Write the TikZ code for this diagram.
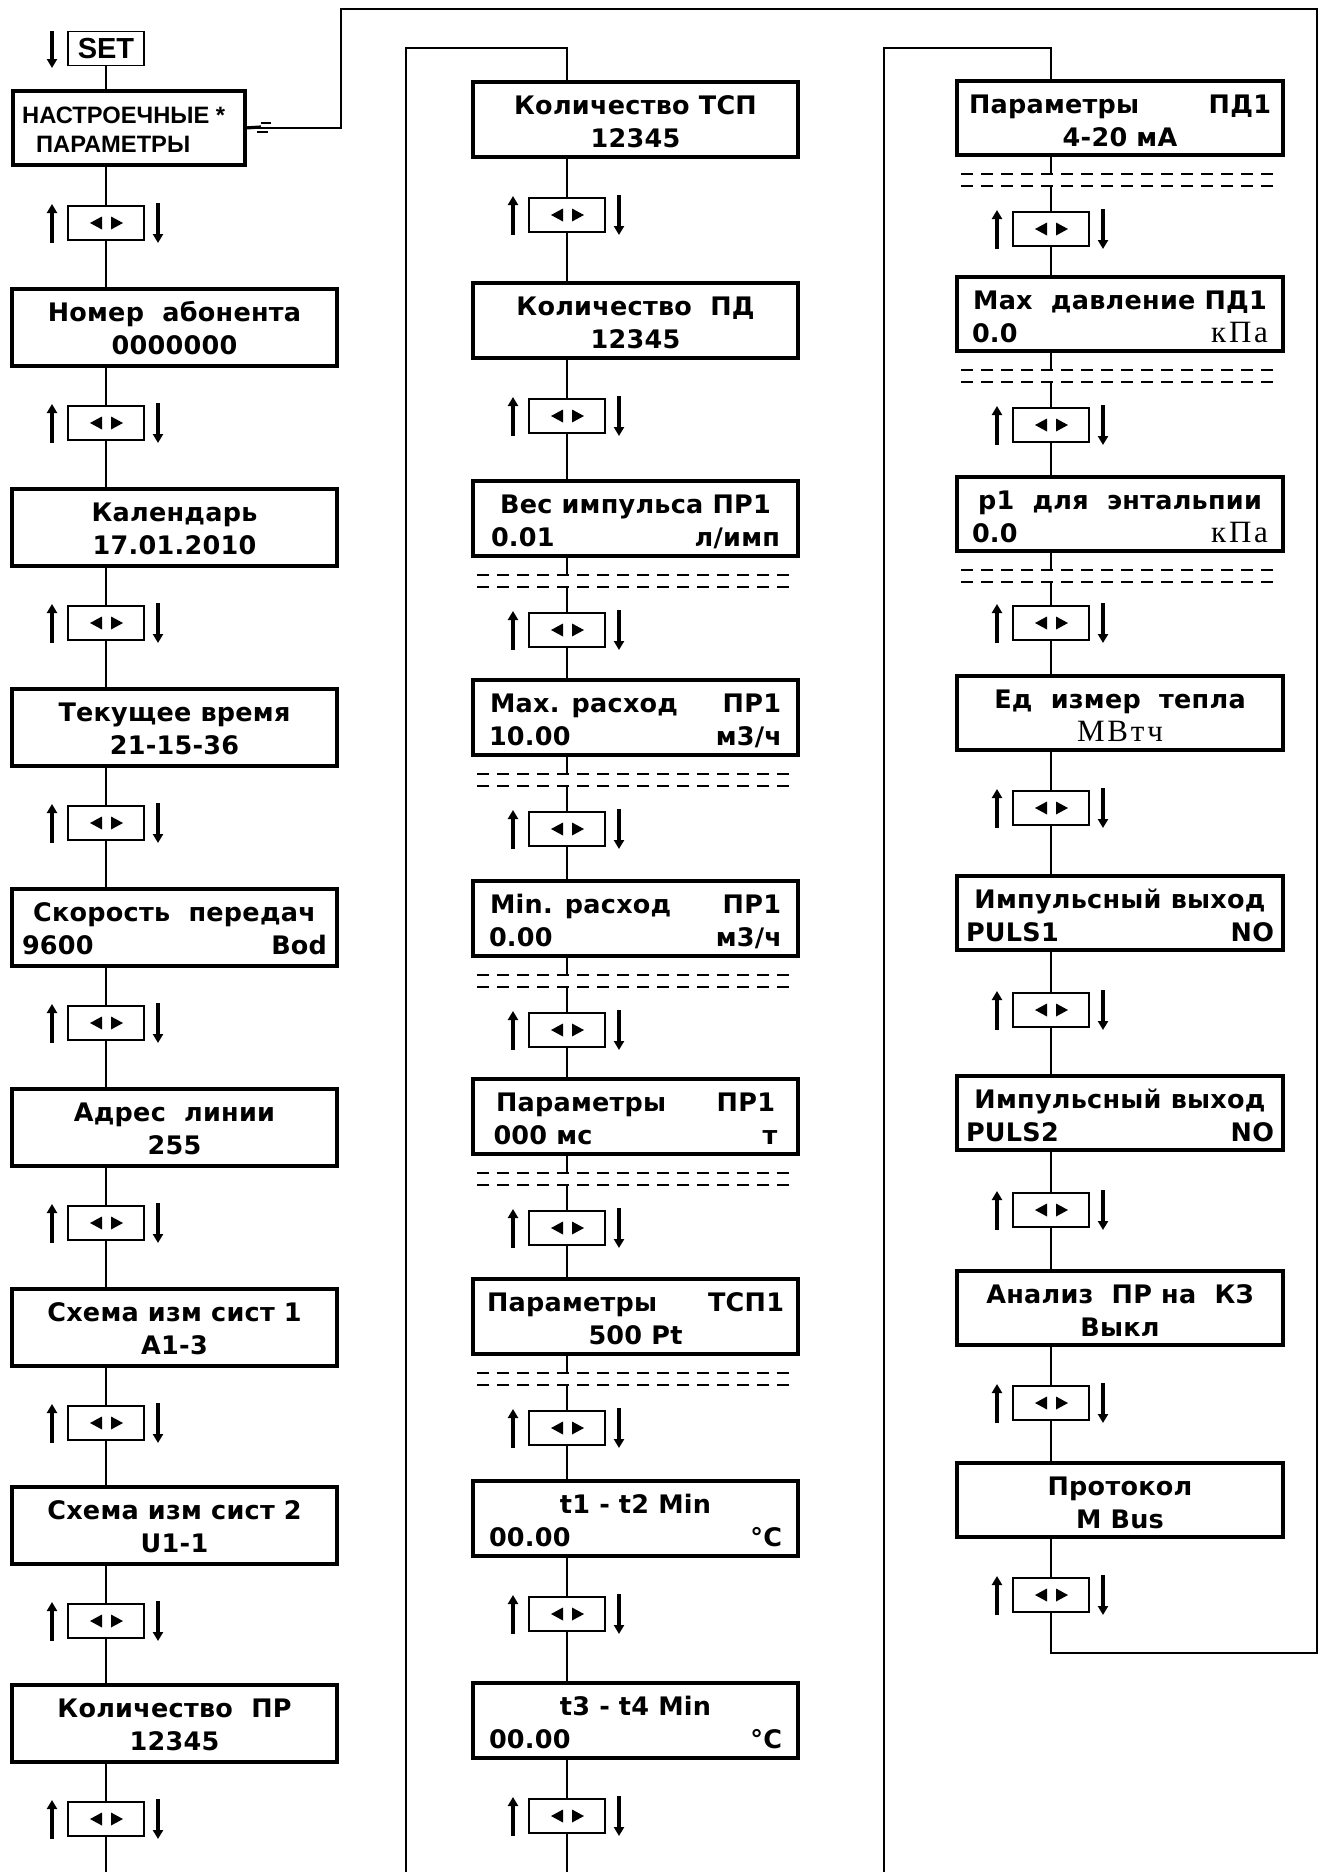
\documentclass[tikz,border=0pt]{standalone}
\usepackage{fontspec}
\usetikzlibrary{arrows.meta,calc}
\newfontfamily\lcdf{DejaVu Sans}[LetterSpace=1]
\newfontfamily\plainf{Liberation Sans}
\newfontfamily\serf{Liberation Serif}[LetterSpace=9]
\newcommand{\sertxt}[1]{{\serf\mdseries\fontsize{31}{32}\selectfont #1}}
\newcommand{\lrtext}[3][289pt]{\makebox[#1]{#2\hfill #3}}
\tikzset{
 scrbox/.style={draw, line width=3.4pt, inner sep=0pt, outer sep=0pt},
 txt/.style={anchor=base, inner sep=0pt, font=\lcdf\bfseries\fontsize{25.5}{30}\selectfont},
 navbox/.style={draw, line width=1.8pt, minimum width=76pt, minimum height=34pt, inner sep=0pt, outer sep=0pt},
 conn/.style={line width=1.8pt},
 dsh/.style={line width=1.8pt, dash pattern=on 12pt off 8pt},
 arr/.style={line width=3.4pt, -{Triangle[width=10pt,length=9pt]}},
}
% #1 width, #2 name, #3 x, #4 y, #5 height, #6 line1, #7 line2
\newcommand{\mkscr}[7][325]{%
  \node[scrbox, minimum width=#1pt, minimum height=#5pt, anchor=north west] (#2) at (#3,#4) {};
  \node[txt] (#2a) at ($(#2.north)+(0,32)$) {#6};
  \node[txt] (#2b) at ($(#2.north)+(0,65)$) {#7};
}
% #1 name, #2 cx, #3 top
\newcommand{\mknav}[3]{%
  \node[navbox, anchor=north] (#1) at (#2,#3) {};
  \fill (#2-16,#3+17) -- (#2-4,#3+10.5) -- (#2-4,#3+23.5) -- cycle;
  \fill (#2+17,#3+17) -- (#2+5,#3+10.5) -- (#2+5,#3+23.5) -- cycle;
  \draw[arr] (#2-54,#3+37) -- (#2-54,#3-2);
  \draw[arr] (#2+52,#3-3) -- (#2+52,#3+37);
}
\newcommand{\linkbn}[2]{\draw[conn] (#1.south -| #2.north) -- (#2.north);}
\newcommand{\linknb}[2]{\draw[conn] (#1.south) -- (#1.south |- #2.north);}
\newcommand{\linkbd}[2]{%
  \draw[conn] (#1.south -| #2.north) -- ($(#1.south -| #2.north)+(0,19)$);
  \draw[dsh] ($(#1.south west)+(4,19)$) -- ($(#1.south east)+(-3,19)$);
  \draw[dsh] ($(#1.south west)+(4,31)$) -- ($(#1.south east)+(-3,31)$);
  \draw[conn] ($(#1.south -| #2.north)+(0,31)$) -- (#2.north);}

\begin{document}
\begin{tikzpicture}[x=1pt,y=-1pt]
\fill[white] (0,0) rectangle (1321,1872);
\useasboundingbox (0,0) rectangle (1321,1872);

% ---------- column 1 ----------
\node[navbox, font=\plainf\bfseries\fontsize{29}{30}\selectfont] (set) at (106,48.5) {SET};
\draw[arr] (52,31) -- (52,68);
\node[scrbox, minimum width=232pt, minimum height=74pt, anchor=north west] (nastr) at (13,91) {};
\node[anchor=base west, inner sep=0pt, font=\plainf\bfseries\fontsize{23.7}{26}\selectfont] (nastra) at (22,123) {НАСТРОЕЧНЫЕ *};
\node[anchor=base west, inner sep=0pt, font=\plainf\bfseries\fontsize{23.7}{26}\selectfont] (nastrb) at (36,152) {ПАРАМЕТРЫ};
\draw[conn] (set.south) -- (set.south |- nastr.north);
\mknav{nn0}{106}{206}
\linkbn{nastr}{nn0}

\mkscr{c1}{12}{289}{77}{Номер~~абонента}{0000000}
\mkscr{c2}{12}{489}{77}{Календарь}{17.01.2010}
\mkscr{c3}{12}{689}{77}{Текущее время}{21-15-36}
\mkscr{c4}{12}{889}{77}{Скорость~~передач}{\lrtext[305pt]{9600}{Bod}}
\mkscr{c5}{12}{1089}{77}{Адрес~~линии}{255}
\mkscr{c6}{12}{1289}{77}{Схема изм сист 1}{A1-3}
\mkscr{c7}{12}{1487}{77}{Схема изм сист 2}{U1-1}
\mkscr{c8}{12}{1685}{77}{Количество~~ПР}{12345}
\mknav{nc1}{106}{406}
\mknav{nc2}{106}{606}
\mknav{nc3}{106}{806}
\mknav{nc4}{106}{1006}
\mknav{nc5}{106}{1206}
\mknav{nc6}{106}{1406}
\mknav{nc7}{106}{1604}
\mknav{nc8}{106}{1802}
\linknb{nn0}{c1}
\linkbn{c1}{nc1} \linknb{nc1}{c2}
\linkbn{c2}{nc2} \linknb{nc2}{c3}
\linkbn{c3}{nc3} \linknb{nc3}{c4}
\linkbn{c4}{nc4} \linknb{nc4}{c5}
\linkbn{c5}{nc5} \linknb{nc5}{c6}
\linkbn{c6}{nc6} \linknb{nc6}{c7}
\linkbn{c7}{nc7} \linknb{nc7}{c8}
\linkbn{c8}{nc8}
\coordinate (end1) at (106,1872);
\draw[conn] (nc8.south) -- (end1);

% ---------- column 2 ----------
\mkscr{d1}{473}{82}{75}{Количество ТСП}{12345}
\mkscr{d2}{473}{283}{75}{Количество~~ПД}{12345}
\mkscr{d3}{473}{481}{75}{Вес импульса ПР1}{\lrtext{0.01}{л/имп}}
\mkscr{d4}{473}{680}{75}{\lrtext[291pt]{Max. расход}{ПР1}}{\lrtext[293pt]{10.00}{м3/ч}}
\mkscr{d5}{473}{881}{75}{\lrtext[291pt]{Min. расход}{ПР1}}{\lrtext[293pt]{0.00}{м3/ч}}
\mkscr{d6}{473}{1079}{75}{\lrtext[279pt]{Параметры}{ПР1}}{\lrtext[284pt]{000 мс}{т}}
\mkscr{d7}{473}{1279}{75}{\lrtext[297pt]{Параметры}{ТСП1}}{500 Pt}
\mkscr{d8}{473}{1481}{75}{t1 - t2 Min}{\lrtext[293pt]{00.00}{°C}}
\mkscr{d9}{473}{1683}{75}{t3 - t4 Min}{\lrtext[293pt]{00.00}{°C}}
\mknav{nd1}{567}{198}
\mknav{nd2}{567}{399}
\mknav{nd3}{567}{613}
\mknav{nd4}{567}{812}
\mknav{nd5}{567}{1013}
\mknav{nd6}{567}{1211}
\mknav{nd7}{567}{1411}
\mknav{nd8}{567}{1597}
\mknav{nd9}{567}{1799}
\coordinate (s2) at (406,1872);
\coordinate (t2) at (406,48);
\draw[conn] (s2) -- (t2) -| (d1.north -| nd1.north);
\linkbn{d1}{nd1} \linknb{nd1}{d2}
\linkbn{d2}{nd2} \linknb{nd2}{d3}
\linkbd{d3}{nd3} \linknb{nd3}{d4}
\linkbd{d4}{nd4} \linknb{nd4}{d5}
\linkbd{d5}{nd5} \linknb{nd5}{d6}
\linkbd{d6}{nd6} \linknb{nd6}{d7}
\linkbd{d7}{nd7} \linknb{nd7}{d8}
\linkbn{d8}{nd8} \linknb{nd8}{d9}
\linkbn{d9}{nd9}
\coordinate (end2) at (567,1872);
\draw[conn] (nd9.south) -- (end2);

% ---------- column 3 ----------
\mkscr[326]{e1}{957}{81}{74}{\lrtext[302pt]{Параметры}{ПД1}}{4-20 мА}
\mkscr[326]{e2}{957}{277}{74}{Max~~давление ПД1}{\lrtext[296pt]{0.0}{\sertxt{кПа}}}
\mkscr[326]{e3}{957}{477}{74}{р1~~для~~энтальпии}{\lrtext[296pt]{0.0}{\sertxt{кПа}}}
\mkscr[326]{e4}{957}{676}{74}{Ед~~измер~~тепла}{\sertxt{МВтч}}
\mkscr[326]{e5}{957}{876}{74}{Импульсный выход}{\lrtext[308pt]{PULS1}{NO}}
\mkscr[326]{e6}{957}{1076}{74}{Импульсный выход}{\lrtext[308pt]{PULS2}{NO}}
\mkscr[326]{e7}{957}{1271}{74}{Анализ~~ПР на~~КЗ}{Выкл}
\mkscr[326]{e8}{957}{1463}{74}{Протокол}{M Bus}
\mknav{ne1}{1051}{212}
\mknav{ne2}{1051}{408}
\mknav{ne3}{1051}{606}
\mknav{ne4}{1051}{791}
\mknav{ne5}{1051}{993}
\mknav{ne6}{1051}{1193}
\mknav{ne7}{1051}{1386}
\mknav{ne8}{1051}{1578}
\coordinate (s3) at (884,1872);
\coordinate (t3) at (884,48);
\draw[conn] (s3) -- (t3) -| (e1.north -| ne1.north);
\linkbd{e1}{ne1} \linknb{ne1}{e2}
\linkbd{e2}{ne2} \linknb{ne2}{e3}
\linkbd{e3}{ne3} \linknb{ne3}{e4}
\linkbn{e4}{ne4} \linknb{ne4}{e5}
\linkbn{e5}{ne5} \linknb{ne5}{e6}
\linkbn{e6}{ne6} \linknb{ne6}{e7}
\linkbn{e7}{ne7} \linknb{ne7}{e8}
\linkbn{e8}{ne8}

% ---------- return loop ----------
\coordinate (rb) at (1317,1653);
\coordinate (rt) at (341,9);
\draw[conn] (ne8.south) |- (rb) |- (rt) |- (nastr.east);
\draw[line width=3.2pt] (nastr.east) -- ++(16,-1);
\draw[line width=1.6pt] ($(nastr.east)+(16,-5)$) -- ++(10,0);
\draw[line width=1.6pt] ($(nastr.east)+(12,4)$) -- ++(11,0);
\end{tikzpicture}
\end{document}
